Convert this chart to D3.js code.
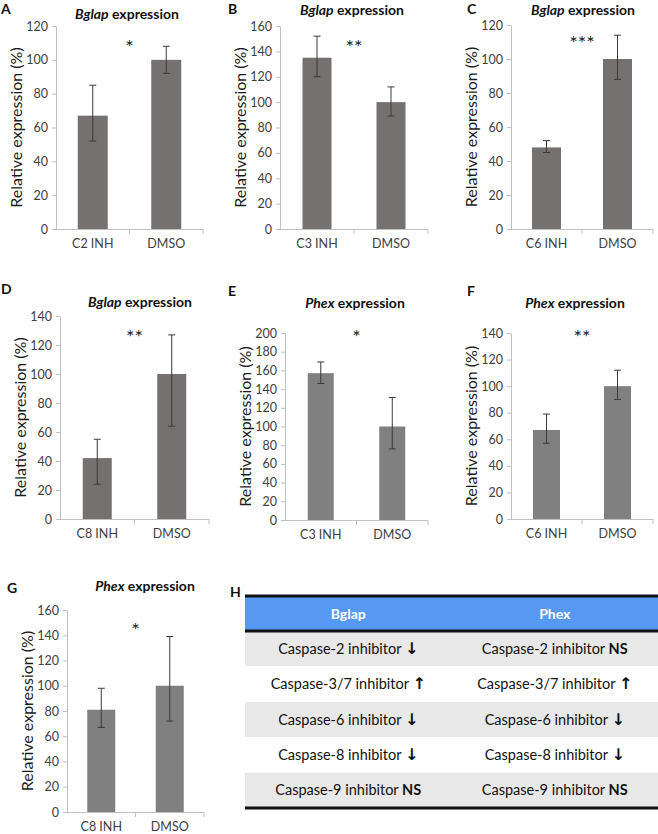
<!DOCTYPE html>
<html>
<head>
<meta charset="utf-8">
<script src="https://cdn.jsdelivr.net/npm/d3@7"></script>
<style>
  html, body { margin: 0; padding: 0; background: #fff; }
  svg { display: block; font-family: Lato, "Open Sans", sans-serif; }
</style>
</head>
<body>
<svg id="chart" width="658" height="834"></svg>
<script>
// ---------- DATA ----------
const panelIds = ["A", "B", "C", "D", "E", "F", "G"];
const genes = ["Bglap", "Bglap", "Bglap", "Bglap", "Phex", "Phex", "Phex"];
const inhibitorLabels = ["C2 INH", "C3 INH", "C6 INH", "C8 INH", "C3 INH", "C6 INH", "C8 INH"];
const controlLabel = "DMSO";
const inhibitorValues = [67, 135, 48, 42, 157, 67, 81];
const controlValues = [100, 100, 100, 100, 100, 100, 100];
const inhibitorErrHigh = [85, 152, 52, 55, 169, 79, 98];
const inhibitorErrLow = [52, 120, 45, 24, 146, 57, 67];
const controlErrHigh = [108, 112, 114, 127, 131, 112, 139];
const controlErrLow = [92, 89, 88, 64, 76, 90, 72];
const yMaxima = [120, 160, 120, 140, 200, 140, 160];
const yTickStep = 20;
const significance = ["*", "**", "***", "**", "*", "**", "*"];

const tableHeaders = ["Bglap", "Phex"];
const tableInhibitors = ["Caspase-2 inhibitor", "Caspase-3/7 inhibitor", "Caspase-6 inhibitor", "Caspase-8 inhibitor", "Caspase-9 inhibitor"];
const bglapEffects = ["down", "up", "down", "down", "NS"];
const phexEffects = ["NS", "up", "down", "down", "NS"];
const tableLetter = "H";

// ---------- LAYOUT ----------
const layout = [
  {x0: 56,  x1: 203, top: 26,  bottom: 229, barW: 30, lx: 1,   ly: 14,  tx: 127, ty: 19,  sy: 54},
  {x0: 280, x1: 428, top: 26,  bottom: 229, barW: 29, lx: 228, ly: 14,  tx: 352, ty: 15,  sy: 54},
  {x0: 511, x1: 653, top: 25,  bottom: 229, barW: 29, lx: 467, ly: 14,  tx: 583, ty: 15,  sy: 50},
  {x0: 60,  x1: 209, top: 316, bottom: 519, barW: 29, lx: 1,   ly: 294, tx: 140, ty: 307, sy: 344},
  {x0: 285, x1: 428, top: 333, bottom: 520, barW: 26, lx: 228, ly: 296, tx: 355, ty: 308, sy: 344},
  {x0: 511, x1: 653, top: 333, bottom: 519, barW: 27, lx: 467, ly: 296, tx: 575, ty: 308, sy: 344},
  {x0: 67,  x1: 204, top: 610, bottom: 812, barW: 28, lx: 7,   ly: 593, tx: 145, ty: 591, sy: 637}
];
const barColors = ["#767171", "#767171", "#767171", "#767171", "#808080", "#808080", "#808080"];

const svg = d3.select("#chart");

panelIds.forEach((id, i) => {
  const L = layout[i];
  const g = svg.append("g");
  const cats = [inhibitorLabels[i], controlLabel];
  const vals = [inhibitorValues[i], controlValues[i]];
  const hi = [inhibitorErrHigh[i], controlErrHigh[i]];
  const lo = [inhibitorErrLow[i], controlErrLow[i]];

  const x = d3.scaleBand().domain(cats).range([L.x0, L.x1]);
  const y = d3.scaleLinear().domain([0, yMaxima[i]]).range([L.bottom, L.top]);

  // y axis
  const ticks = d3.range(0, yMaxima[i] + 0.001, yTickStep);
  const yAxis = g.append("g")
    .attr("transform", `translate(${L.x0},0)`)
    .call(d3.axisLeft(y).tickValues(ticks).tickSize(4).tickSizeOuter(0).tickPadding(4));
  yAxis.select(".domain").attr("stroke", "#bfbfbf");
  yAxis.selectAll(".tick line").attr("stroke", "#bfbfbf");
  yAxis.selectAll(".tick text").attr("fill", "#404040").style("font-size", "12.5px").style("font-family", "Lato");

  // bars
  g.selectAll("rect.bar").data(cats).join("rect")
    .attr("class", "bar")
    .attr("x", d => x(d) + x.bandwidth() / 2 - L.barW / 2)
    .attr("width", L.barW)
    .attr("y", (d, j) => y(vals[j]))
    .attr("height", (d, j) => y(0) - y(vals[j]))
    .attr("fill", barColors[i]);

  // x axis line with boundary ticks
  g.append("line").attr("x1", L.x0).attr("x2", L.x1).attr("y1", y(0) + 0.5).attr("y2", y(0) + 0.5)
    .attr("stroke", "#bfbfbf");
  const bounds = [x(cats[1]), L.x1];
  g.selectAll("line.xt").data(bounds).join("line").attr("class", "xt")
    .attr("x1", d => d).attr("x2", d => d)
    .attr("y1", y(0)).attr("y2", y(0) + 5)
    .attr("stroke", "#bfbfbf");
  g.selectAll("text.cat").data(cats).join("text").attr("class", "cat")
    .attr("x", d => x(d) + x.bandwidth() / 2)
    .attr("y", y(0) + 19)
    .attr("text-anchor", "middle")
    .attr("fill", "#404040")
    .style("font-size", "12.5px")
    .text(d => d);

  // error bars
  const eb = g.selectAll("g.err").data(cats).join("g").attr("class", "err");
  eb.append("line")
    .attr("x1", d => x(d) + x.bandwidth() / 2).attr("x2", d => x(d) + x.bandwidth() / 2)
    .attr("y1", (d, j) => y(hi[j])).attr("y2", (d, j) => y(lo[j]))
    .attr("stroke", "#3a3a3a").attr("stroke-width", 1);
  [hi, lo].forEach(arr => {
    eb.append("line")
      .attr("x1", d => x(d) + x.bandwidth() / 2 - 3.5).attr("x2", d => x(d) + x.bandwidth() / 2 + 3.5)
      .attr("y1", (d, j) => y(arr[j])).attr("y2", (d, j) => y(arr[j]))
      .attr("stroke", "#3a3a3a").attr("stroke-width", 1);
  });

  // y label
  g.append("text")
    .attr("transform", `translate(${L.x0 - 41},${(L.top + L.bottom) / 2}) rotate(-90)`)
    .attr("text-anchor", "middle")
    .attr("dominant-baseline", "central")
    .attr("fill", "#1a1a1a")
    .style("font-size", "16px")
    .text("Relative expression (%)");

  // title
  const t = g.append("text").attr("x", L.tx).attr("y", L.ty).attr("text-anchor", "middle")
    .style("font-size", "14px").style("font-weight", "bold").attr("fill", "#111");
  t.append("tspan").style("font-style", "italic").text(genes[i]);
  t.append("tspan").text(" expression");

  // panel letter
  g.append("text").attr("x", L.lx).attr("y", L.ly).style("font-size", "14px").style("font-weight", "bold")
    .attr("fill", "#111").text(id);

  // significance
  g.append("text").attr("x", (L.x0 + L.x1) / 2).attr("y", L.sy).attr("text-anchor", "middle")
    .style("font-size", "20px").attr("fill", "#222").text(significance[i]);
});

// ---------- TABLE H ----------
const tX0 = 245, tX1 = 658, tTop = 596, headH = 35, rowH = 35.4;
const colX = d3.scaleBand().domain(tableHeaders).range([tX0, tX1]);
const rowY = d3.scaleBand().domain(tableInhibitors).range([tTop + headH, tTop + headH + rowH * tableInhibitors.length]);
const tg = svg.append("g");

tg.append("text").attr("x", 230).attr("y", 597).style("font-size", "14px").style("font-weight", "bold").attr("fill", "#111").text(tableLetter);

tg.append("rect").attr("x", tX0).attr("y", tTop).attr("width", tX1 - tX0).attr("height", headH).attr("fill", "#5599f2");
tg.selectAll("rect.row").data(tableInhibitors).join("rect").attr("class", "row")
  .attr("x", tX0).attr("width", tX1 - tX0)
  .attr("y", d => rowY(d)).attr("height", rowY.bandwidth())
  .attr("fill", (d, k) => k % 2 === 0 ? "#e8e8e8" : "#ffffff");

tg.selectAll("text.hd").data(tableHeaders).join("text").attr("class", "hd")
  .attr("x", d => colX(d) + colX.bandwidth() / 2).attr("y", tTop + headH / 2 + 5)
  .attr("text-anchor", "middle").attr("fill", "#fff")
  .style("font-size", "14px").style("font-weight", "bold").text(d => d);

const effectSym = e => e === "up" ? "↑" : e === "down" ? "↓" : "NS";
[bglapEffects, phexEffects].forEach((effects, c) => {
  const cx = colX(tableHeaders[c]) + colX.bandwidth() / 2;
  tableInhibitors.forEach((inh, k) => {
    const tx = tg.append("text").attr("x", cx).attr("y", rowY(inh) + rowY.bandwidth() / 2 + 5)
      .attr("text-anchor", "middle").attr("fill", "#111").style("font-size", "14.5px");
    tx.append("tspan").text(inh + " ");
    const s = effectSym(effects[k]);
    const sp = tx.append("tspan").style("font-weight", "bold").text(s);
    if (s !== "NS") sp.style("font-family", "DejaVu Sans").style("font-size", "16px");
  });
});

// table rules
[[tTop, 3], [tTop + headH, 3], [tTop + headH + rowH * tableInhibitors.length, 3]].forEach(([yy, w]) => {
  tg.append("line").attr("x1", tX0).attr("x2", tX1).attr("y1", yy).attr("y2", yy)
    .attr("stroke", "#111").attr("stroke-width", w);
});
</script>
</body>
</html>
